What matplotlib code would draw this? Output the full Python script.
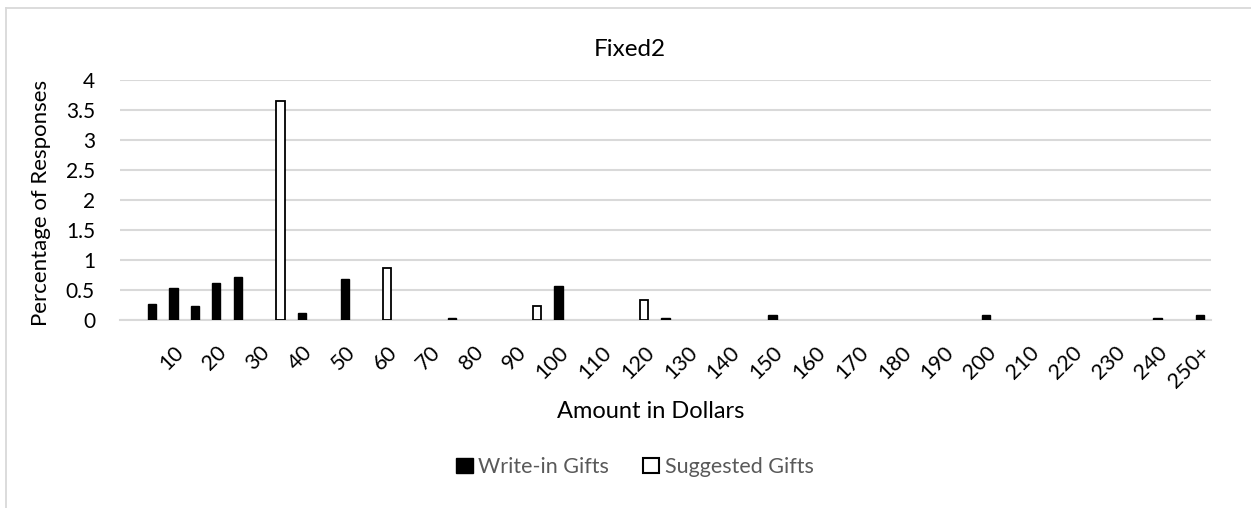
import matplotlib
matplotlib.use("Agg")
import matplotlib.pyplot as plt
from matplotlib.lines import Line2D
from matplotlib.patches import Patch

plt.rcParams['font.family'] = ['Lato', 'DejaVu Sans']

# categories: an empty first slot, then $5 steps up to 250+
categories = [""] + [str(5 * k) for k in range(1, 50)] + ["250+"]

# write-in gifts (amount -> percentage)
write_in_amounts = ["5", "10", "15", "20", "25", "40", "50", "75", "100", "125", "150", "200", "240", "250+"]
write_in_values = [0.27, 0.54, 0.24, 0.61, 0.72, 0.12, 0.69, 0.04, 0.57, 0.04, 0.09, 0.09, 0.03, 0.09]

# suggested gifts
suggested_amounts = ["35", "60", "95", "120"]
suggested_values = [3.65, 0.86, 0.24, 0.34]

title = "Fixed2"

W, H = 1251, 508
fig = plt.figure(figsize=(W / 100, H / 100), dpi=100)
ax = fig.add_axes([120 / W, 1 - 320 / H, (1211 - 120) / W, 240 / H])

# chart area border (only left and top edges are inside the picture)
fig.add_artist(Line2D([6 / W, 6 / W], [0, 1 - 8 / H], transform=fig.transFigure, color="#d9d9d9", lw=1.3))
fig.add_artist(Line2D([6 / W, 1], [1 - 8 / H, 1 - 8 / H], transform=fig.transFigure, color="#d9d9d9", lw=1.3))

bar_w = 0.38
wx = [categories.index(a) for a in write_in_amounts]
sx = [categories.index(a) for a in suggested_amounts]
ax.bar(wx, write_in_values, width=bar_w, color="black", edgecolor="black", linewidth=1, zorder=3)
ax.bar(sx, suggested_values, width=bar_w, color="white", edgecolor="black", linewidth=1.3, zorder=3)

ax.set_xlim(-0.5, len(categories) - 0.5)
ax.set_ylim(0, 4)
ax.set_yticks([0, 0.5, 1, 1.5, 2, 2.5, 3, 3.5, 4])
ax.set_yticklabels(["0", "0.5", "1", "1.5", "2", "2.5", "3", "3.5", "4"], fontsize=15)
ax.yaxis.grid(True, color="#d9d9d9", linewidth=1.5, zorder=0)
ax.set_axisbelow(True)

tick_pos = list(range(2, len(categories), 2))
ax.set_xticks(tick_pos)
ax.set_xticklabels([categories[i] for i in tick_pos], rotation=45, ha="right", va="top",
                   rotation_mode="anchor", fontsize=15.5)
ax.tick_params(axis="both", length=0)
ax.tick_params(axis="x", pad=16)
ax.tick_params(axis="y", pad=18)

for s in ["top", "right", "left"]:
    ax.spines[s].set_visible(False)
ax.spines["bottom"].set_color("#d9d9d9")
ax.spines["bottom"].set_linewidth(1.5)

fig.text(41 / W, 1 - 203 / H, "Percentage of Responses", rotation=90, ha="center", va="center", fontsize=16)
fig.text(651 / W, 1 - 411 / H, "Amount in Dollars", ha="center", va="center", fontsize=17)
fig.text(630 / W, 1 - 50 / H, title, ha="center", va="center", fontsize=17.5)

handles = [Patch(facecolor="black", edgecolor="black", label="Write-in Gifts"),
           Patch(facecolor="white", edgecolor="black", linewidth=1.5, label="Suggested Gifts")]
leg = fig.legend(handles=handles, loc="center", bbox_to_anchor=(635 / W, 1 - 467 / H), ncol=2,
                 frameon=False, fontsize=15.5, handlelength=0.75, handleheight=0.75, handletextpad=0.25,
                 columnspacing=1.6)
for t in leg.get_texts():
    t.set_color("#595959")

fig.savefig("out.png", dpi=100)
